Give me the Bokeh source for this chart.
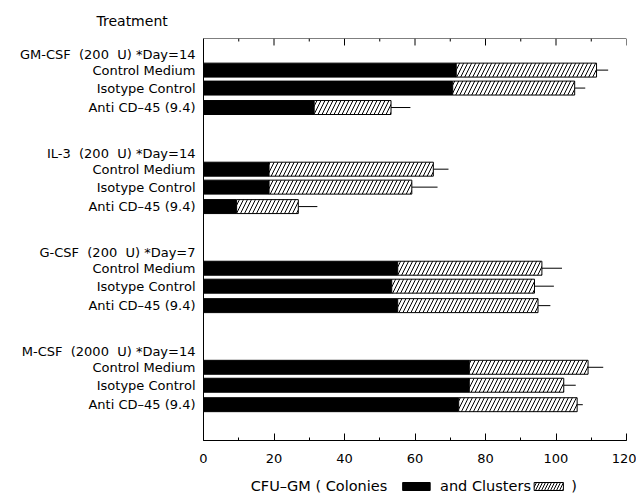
from bokeh.plotting import figure
from bokeh.models import Range1d, FixedTicker, ColumnDataSource, Span
from bokeh.layouts import column
from bokeh.core.properties import value
from bokeh.embed import file_html
from bokeh.resources import INLINE

NB = "\u00a0"
groups = [
    "GM-CSF" + NB * 2 + "(200" + NB * 2 + "U) *Day=14",
    "IL-3" + NB * 2 + "(200" + NB * 2 + "U) *Day=14",
    "G-CSF" + NB * 2 + "(200" + NB * 2 + "U) *Day=7",
    "M-CSF" + NB * 2 + "(2000" + NB * 2 + "U) *Day=14",
]
treatments = ["Control Medium", "Isotype Control", "Anti CD\u201345 (9.4)"]
colonies = [[71.7, 70.7, 31.4], [18.6, 18.6, 9.4], [55.1, 53.4, 55.1], [75.4, 75.4, 72.4]]
totals = [[111.5, 105.3, 53.2], [65.2, 59.1, 26.9], [96.0, 93.9, 94.9], [109.1, 102.2, 106.0]]
errors = [[3.3, 3.0, 5.5], [4.3, 7.3, 5.4], [5.7, 5.5, 3.5], [4.3, 3.4, 1.6]]
x_ticks = [0, 20, 40, 60, 80, 100, 120]
x_minor = [10, 30, 50, 70, 90, 110]

FONT = "DejaVu Sans"
GROUP_STEP = 99.3
OFFSETS = [16.0, 34.0, 53.5]
MAJOR_LEN = 7
MINOR_LEN = 3

# rows run downward: position = -(distance in px from first header)
ys, col_r, tot_r, err_r = [], [], [], []
tick_pos, labels = [], {}
for g, name in enumerate(groups):
    hy = -round(g * GROUP_STEP, 1)
    tick_pos.append(hy)
    labels[hy] = name
    for i, t in enumerate(treatments):
        y = -round(g * GROUP_STEP + OFFSETS[i], 1)
        tick_pos.append(y)
        labels[y] = t
        ys.append(y)
        col_r.append(colonies[g][i])
        tot_r.append(totals[g][i])
        err_r.append(totals[g][i] + errors[g][i])

src = ColumnDataSource(dict(y=ys, col=col_r, tot=tot_r, err=err_r))

p = figure(width=636, height=470, x_range=Range1d(0, 120),
           y_range=Range1d(-387.3, 15.7), output_backend="svg",
           toolbar_location=None, min_border_left=203, min_border_right=10,
           min_border_top=37, min_border_bottom=30, title="Treatment")
p.grid.visible = False
p.outline_line_color = None
p.background_fill_color = "white"

p.title.align = "left"
p.title.offset = -107
p.title.standoff = 20
p.title.text_font = FONT
p.title.text_font_size = "14px"
p.title.text_font_style = "normal"
p.title.text_color = "black"

# bottom axis
xa = p.xaxis[0]
xa.ticker = FixedTicker(ticks=x_ticks, minor_ticks=x_ticks + x_minor)
xa.major_tick_in = MAJOR_LEN
xa.major_tick_out = 0
xa.minor_tick_in = MINOR_LEN
xa.minor_tick_out = 0
xa.axis_line_color = "black"
xa.major_tick_line_color = "black"
xa.minor_tick_line_color = "black"
xa.major_label_text_font = FONT
xa.major_label_text_font_size = "13px"
xa.major_label_text_color = "black"
xa.major_label_standoff = 13

# top frame edge with inward ticks (mirrors the bottom axis ticks)
top = p.y_range.end
p.add_layout(Span(location=top, dimension="width", line_color="black", line_width=1))
p.segment(x0=x_ticks, x1=x_ticks, y0=[top] * len(x_ticks),
          y1=[top - MAJOR_LEN] * len(x_ticks), line_color="black", line_width=1)
p.segment(x0=x_minor, x1=x_minor, y0=[top] * len(x_minor),
          y1=[top - MINOR_LEN] * len(x_minor), line_color="black", line_width=1)

# left axis
ya = p.yaxis[0]
ya.ticker = FixedTicker(ticks=tick_pos, minor_ticks=[])
ya.major_label_overrides = labels
ya.major_tick_in = 0
ya.major_tick_out = 0
ya.minor_tick_in = 0
ya.minor_tick_out = 0
ya.axis_line_color = "black"
ya.major_label_text_font = FONT
ya.major_label_text_font_size = "13px"
ya.major_label_text_color = "black"
ya.major_label_standoff = 8

p.segment(x0="tot", x1="err", y0="y", y1="y", source=src, line_color="black", line_width=1)
p.hbar(y="y", left=0, right="col", height=14, source=src,
       fill_color="black", line_color="black", line_width=1)
p.hbar(y="y", left="col", right="tot", height=14, source=src,
       fill_color="white", line_color="black", line_width=1,
       hatch_pattern="/", hatch_color="black", hatch_scale=8, hatch_weight=1)

# x-axis title with inline legend swatches (frame aligned with main plot)
f2 = figure(width=636, height=24, x_range=p.x_range, y_range=Range1d(0, 24),
            output_backend="svg", toolbar_location=None,
            min_border_left=203, min_border_right=10, min_border_top=0, min_border_bottom=0)
f2.axis.visible = False
f2.grid.visible = False
f2.outline_line_color = None
tf = dict(text_baseline="middle", text_align="left", text_font=value(FONT),
          text_font_size="14.5px", text_color="black")
f2.text(x=[13.4], y=[9], text=["CFU\u2013GM ( Colonies"], **tf)
f2.quad(left=[56.5], right=[64.3], top=[12], bottom=[4], fill_color="black", line_color="black")
f2.text(x=[67.1], y=[9], text=["and Clusters"], **tf)
f2.quad(left=[93.8], right=[102.1], top=[12], bottom=[4], fill_color="white", line_color="black",
        hatch_pattern="/", hatch_color="black", hatch_scale=6, hatch_weight=1)
f2.text(x=[104.3], y=[9], text=[")"], **tf)

layout = column(p, f2)
open("out.html", "w").write(file_html(layout, INLINE))
